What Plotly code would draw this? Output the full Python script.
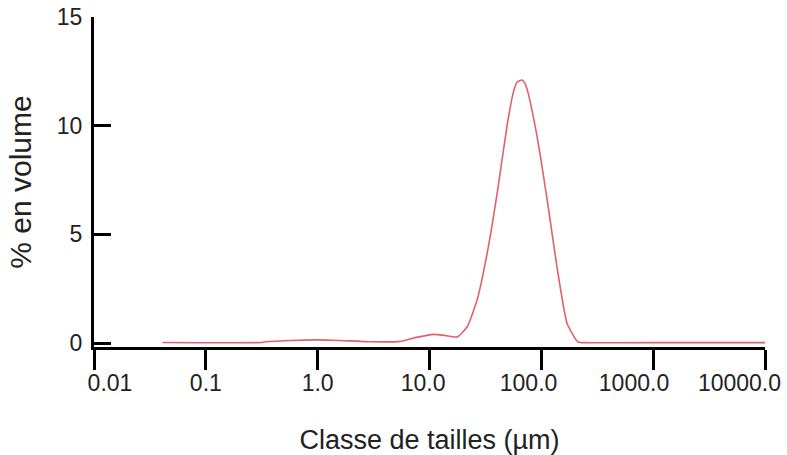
import plotly.graph_objects as go

# Particle size (µm) and % volume
taille_um = [0.041, 0.32, 0.33, 0.57, 0.99, 1.58, 2.95, 5.46, 7.43, 10.8, 13.8, 17.7,
             21.7, 26.7, 32.7, 40.3, 49.4, 56.0, 60.5, 67.3, 72.0, 76.2, 91.6, 112.7,
             138.0, 170.0, 213.0, 260.0, 1000.0, 10000.0]
pct_volume = [0.03, 0.03, 0.05, 0.12, 0.15, 0.12, 0.06, 0.08, 0.25, 0.40, 0.35, 0.28,
              0.75, 2.0, 4.1, 6.9, 10.0, 11.5, 12.0, 12.1, 11.9, 11.5, 9.5, 6.6,
              3.5, 0.9, 0.05, 0.02, 0.02, 0.02]

x_tickvals = [0.01, 0.1, 1, 10, 100, 1000, 10000]
x_ticktext = ["0.01", "0.1", "1.0", "10.0", "100.0", "1000.0", "10000.0"]
y_tickvals = [0, 5, 10, 15]

# label nudging as in the reference (padding with no-break spaces, layout only)
NB = "\u00a0"
pad_before = [5, 0, 0, 0, 0, 0, 0]
pad_after = [0, 0, 0, 2, 4, 6, 8]
x_ticktext_shown = [NB * b + t + NB * a for t, b, a in zip(x_ticktext, pad_before, pad_after)]

fig = go.Figure()
fig.add_trace(go.Scatter(
    x=taille_um, y=pct_volume, mode="lines",
    line=dict(color="#e0606c", width=1.6, shape="spline", smoothing=0.5),
    showlegend=False, hoverinfo="skip", cliponaxis=False))

font = "Liberation Sans, Arial, sans-serif"
fig.update_layout(
    width=787, height=455,
    margin=dict(l=94, r=22, t=17, b=108),
    paper_bgcolor="white", plot_bgcolor="white",
    font=dict(family=font, color="#222222"),
    xaxis=dict(
        type="log", range=[-2, 4], automargin=False,
        tickvals=x_tickvals, ticktext=x_ticktext_shown, tickangle=0,
        ticks="outside", ticklen=20, tickwidth=3, tickcolor="black",
        showline=True, linewidth=3, linecolor="black",
        showgrid=False, zeroline=False,
        tickfont=dict(size=23, color="#222222"),
        ticklabeloverflow="allow",
        ticklabelstandoff=-7,
        title=dict(text="Classe de tailles (µm)", font=dict(size=27, color="#222222"), standoff=38),
    ),
    yaxis=dict(
        range=[-0.18, 15.0], automargin=False,
        tickvals=y_tickvals, tickangle=0,
        ticks="inside", ticklen=17, tickwidth=3, tickcolor="black",
        showline=True, linewidth=3, linecolor="black",
        showgrid=False, zeroline=False,
        tickfont=dict(size=23, color="#222222"),
        ticklabeloverflow="allow",
        ticklabelstandoff=4,
        title=dict(text="% en volume", font=dict(size=30, color="#222222"), standoff=17),
    ),
)

fig.write_html("out.html", config={"displayModeBar": False},
               post_script="document.body.style.margin='0';")
